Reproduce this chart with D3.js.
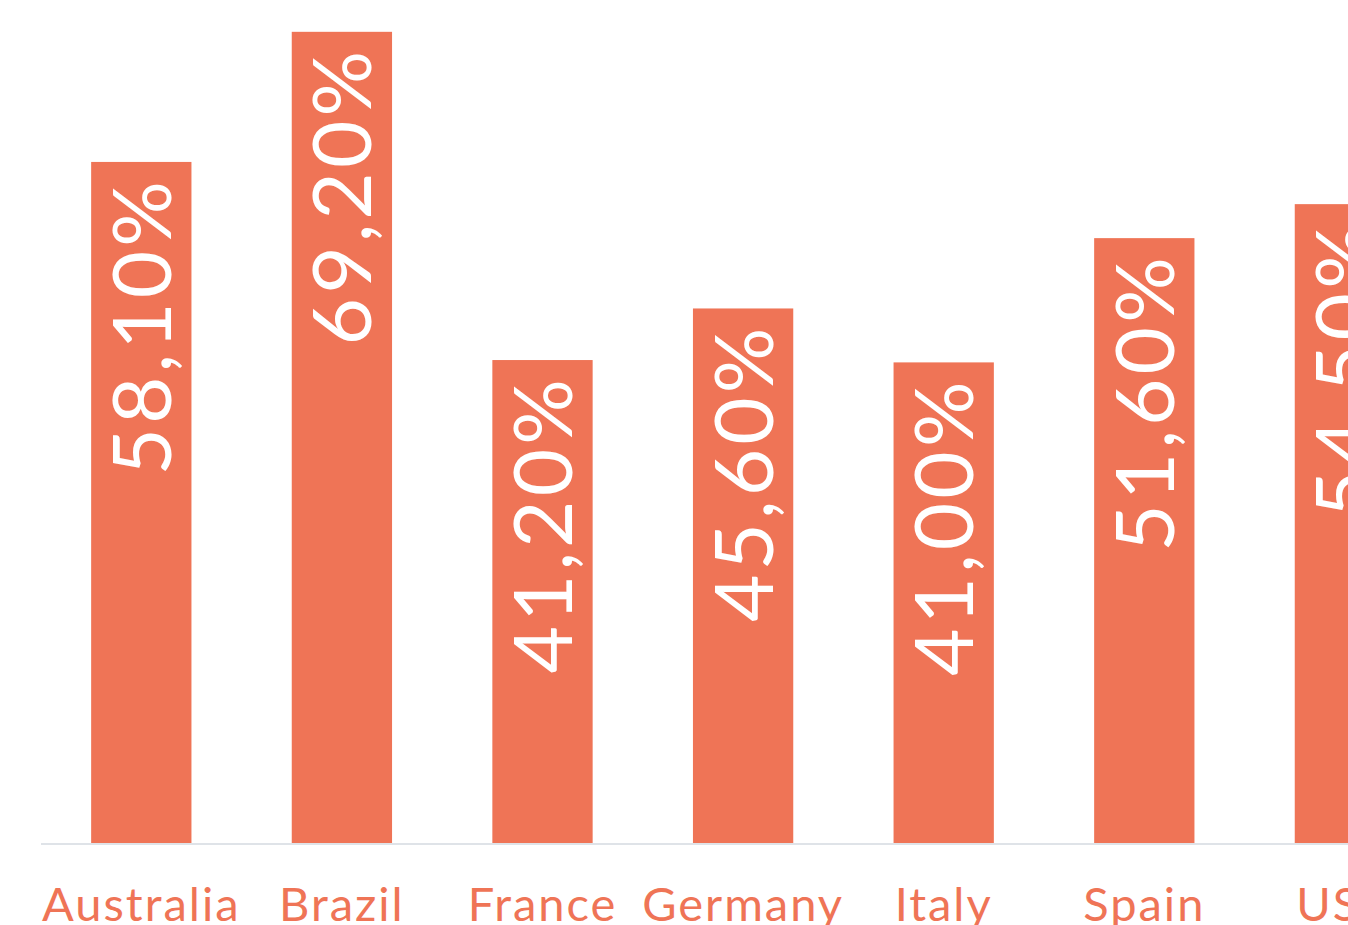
<!DOCTYPE html>
<html>
<head>
<meta charset="utf-8">
<script src="https://cdn.jsdelivr.net/npm/d3@7"></script>
<style>
  body { margin: 0; background: #fff; overflow: hidden; }
  svg { display: block; }
</style>
</head>
<body>
<div id="chart"></div>
<script>
const categories = ["Australia", "Brazil", "France", "Germany", "Italy", "Spain", "USA"];
const values = [58.1, 69.2, 41.2, 45.6, 41.0, 51.6, 54.5];
const valueLabels = ["58,10%", "69,20%", "41,20%", "45,60%", "41,00%", "51,60%", "54,50%"];

const W = 1348, H = 925;
const baseY = 843;
const barColor = "#ef7456";

const svg = d3.select("#chart").append("svg")
    .attr("width", W)
    .attr("height", H);

const x = d3.scaleBand()
    .domain(categories)
    .range([41, 41 + 7 * 200.6])
    .paddingInner(0.5)
    .paddingOuter(0.25);

const y = d3.scaleLinear()
    .domain([0, 72])
    .range([baseY, -1]);

// bars
svg.selectAll("rect.bar")
    .data(categories)
    .enter().append("rect")
    .attr("class", "bar")
    .attr("x", d => x(d))
    .attr("y", (d, i) => y(values[i]))
    .attr("width", x.bandwidth())
    .attr("height", (d, i) => baseY - y(values[i]))
    .attr("fill", barColor);

// baseline
svg.append("line")
    .attr("x1", 41)
    .attr("x2", W)
    .attr("y1", baseY + 1)
    .attr("y2", baseY + 1)
    .attr("stroke", "#dfe3e8")
    .attr("stroke-width", 2);

// value labels, rotated inside bars
svg.selectAll("text.val")
    .data(categories)
    .enter().append("text")
    .attr("class", "val")
    .attr("transform", (d, i) => {
        const cx = x(d) + x.bandwidth() / 2;
        const ty = y(values[i]) + 15;
        return `translate(${cx},${ty}) rotate(-90)`;
    })
    .attr("text-anchor", "end")
    .attr("dy", "0.36em")
    .attr("fill", "#fff")
    .style("font-family", "Lato, sans-serif")
    .style("font-size", "82px")
    .style("letter-spacing", "4px")
    .text((d, i) => valueLabels[i]);

// category labels
svg.selectAll("text.cat")
    .data(categories)
    .enter().append("text")
    .attr("class", "cat")
    .attr("x", d => x(d) + x.bandwidth() / 2)
    .attr("y", 921)
    .attr("text-anchor", "middle")
    .attr("fill", barColor)
    .style("font-family", "Lato, sans-serif")
    .style("font-size", "47px")
    .style("letter-spacing", "2px")
    .text(d => d);
</script>
</body>
</html>
